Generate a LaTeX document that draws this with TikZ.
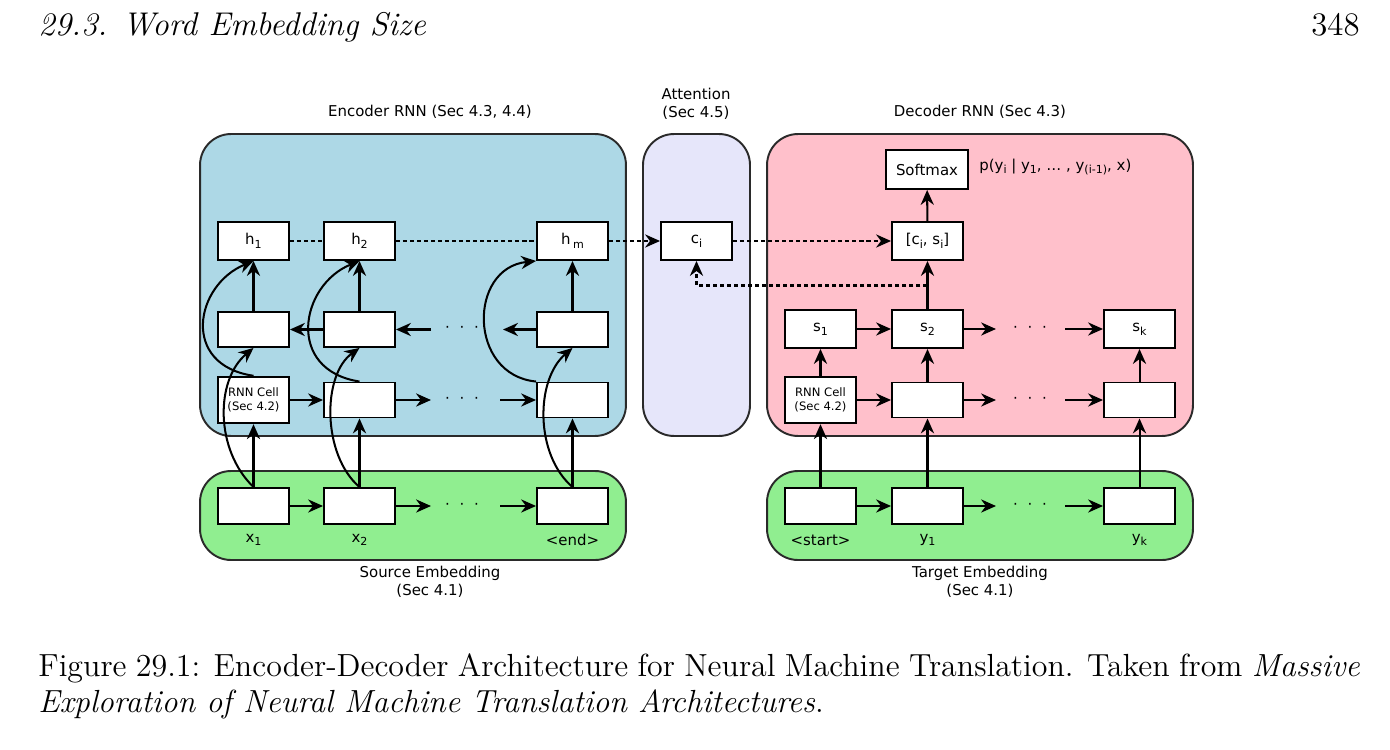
\documentclass[tikz,border=0pt]{standalone}
\usepackage{fontspec}
\setsansfont{DejaVu Sans}
\newfontfamily\capfont{lmroman12-regular.otf}[ItalicFont=lmroman12-italic.otf]
\usetikzlibrary{arrows.meta}
\definecolor{encblue}{HTML}{ADD8E6}
\definecolor{attlav}{HTML}{E6E6FA}
\definecolor{decpink}{HTML}{FFC0CB}
\definecolor{embgreen}{HTML}{90EE90}
\definecolor{edge}{HTML}{2A2A2A}
\newcommand\lbl{\sffamily\fontsize{8.5pt}{10pt}\selectfont}
\newcommand\lblsmall{\sffamily\fontsize{6.6pt}{8pt}\selectfont}
\newcommand\lo[1]{\raisebox{-0.45ex}{\fontsize{6.3pt}{7pt}\selectfont #1}}
\newcommand\threedots{·\hspace{5.5pt}·\hspace{5.5pt}·}
\begin{document}
\begin{tikzpicture}[x=0.02cm,y=-0.02cm,
  panel/.style={draw=edge, line width=1.1pt, rounded corners=0.62cm, inner sep=0pt},
  cell/.style={draw=black, line width=1.1pt, fill=white, minimum width=1.42cm, minimum height=0.7cm, inner sep=0pt, font=\lbl},
  hcell/.style={cell, minimum height=0.76cm},
  rnncell/.style={cell, minimum height=0.93cm, align=center, font=\lblsmall},
  arr/.style={-{Stealth[length=8.5pt,width=7.5pt]}, line width=1.15pt},
  dotl/.style={dash pattern=on 2.3pt off 1.7pt, line width=1.1pt},
  txt/.style={font=\lbl, inner sep=0pt},
  dots/.style={font=\lbl, inner sep=0pt}
]
\useasboundingbox (0,0) rectangle (1390,750);

% header
\node[anchor=base west, inner sep=0pt, font=\capfont\fontsize{18.7pt}{22pt}\selectfont\itshape] (hd) at (38,36) {29.3. Word Embedding Size};
\node[anchor=base east, inner sep=0pt, font=\capfont\fontsize{18.7pt}{22pt}\selectfont] (pg) at (1360,36) {348};

% panels
\node[panel, fill=encblue, minimum width=8.52cm, minimum height=6.04cm] (enc) at (413,285) {};
\node[panel, fill=attlav, minimum width=2.14cm, minimum height=6.04cm] (att) at (696.5,285) {};
\node[panel, fill=decpink, minimum width=8.52cm, minimum height=6.04cm] (dec) at (980,285) {};
\node[panel, fill=embgreen, minimum width=8.52cm, minimum height=1.78cm] (src) at (413,515.5) {};
\node[panel, fill=embgreen, minimum width=8.52cm, minimum height=1.78cm] (tgt) at (980,515.5) {};

% panel titles
\node[txt] (enct) at (430,112) {Encoder RNN (Sec 4.3, 4.4)};
\node[txt] (attt1) at (696,94) {Attention};
\node[txt] (attt2) at (696,113) {(Sec 4.5)};
\node[txt] (dect) at (980,112) {Decoder RNN (Sec 4.3)};
\node[txt] (srct1) at (430,573) {Source Embedding};
\node[txt] (srct2) at (430,591) {(Sec 4.1)};
\node[txt] (tgtt1) at (980,573) {Target Embedding};
\node[txt] (tgtt2) at (980,591) {(Sec 4.1)};

% encoder cells
\node[hcell] (h1) at (253.5,241) {h\lo{1}};
\node[hcell] (h2) at (359.5,241) {h\lo{2}};
\node[hcell] (hm) at (572.5,241) {h\,\lo{m}};
\node[cell] (b1) at (253.5,329.5) {};
\node[cell] (b2) at (359.5,329.5) {};
\node[cell] (bm) at (572.5,329.5) {};
\node[rnncell] (f1) at (253.5,400) {RNN Cell\\(Sec 4.2)};
\node[cell] (f2) at (359.5,400) {};
\node[cell] (fm) at (572.5,400) {};
\node[cell, minimum height=0.72cm] (x1) at (253.5,506) {};
\node[cell, minimum height=0.72cm] (x2) at (359.5,506) {};
\node[cell, minimum height=0.72cm] (xe) at (572.5,506) {};
\node[txt] (x1l) at (253.5,540) {x\lo{1}};
\node[txt] (x2l) at (359.5,540) {x\lo{2}};
\node[txt] (xel) at (572.5,540) {<end>};

% attention
\node[hcell] (ci) at (696.5,241) {c\lo{i}};

% decoder cells
\node[cell, minimum width=1.64cm, minimum height=0.78cm] (sm) at (927,169.5) {Softmax};
\node[txt, anchor=west] (pl) at (979,167) {p(y\lo{i} | y\lo{1}, \dots\ , y\lo{(i-1)}, x)};
\node[hcell] (cs) at (927.5,241) {[c\lo{i}, s\lo{i}]};
\node[hcell] (s1) at (820.5,329) {s\lo{1}};
\node[hcell] (s2) at (927.5,329) {s\lo{2}};
\node[hcell] (sk) at (1139.5,329) {s\lo{k}};
\node[rnncell] (r1) at (820.5,400) {RNN Cell\\(Sec 4.2)};
\node[cell] (r2) at (927.5,400) {};
\node[cell] (rk) at (1139.5,400) {};
\node[cell, minimum height=0.72cm] (t1) at (820.5,506) {};
\node[cell, minimum height=0.72cm] (t2) at (927.5,506) {};
\node[cell, minimum height=0.72cm] (tk) at (1139.5,506) {};
\node[txt] (t1l) at (820.5,540) {<start>};
\node[txt] (t2l) at (927.5,540) {y\lo{1}};
\node[txt] (tkl) at (1139.5,540) {y\lo{k}};

% dots
\node[dots] (dEb) at (462,329.5) {\threedots};
\node[dots] (dEf) at (462,400) {\threedots};
\node[dots] (dEx) at (462,506) {\threedots};
\node[dots] (dDs) at (1030,329) {\threedots};
\node[dots] (dDr) at (1030,400) {\threedots};
\node[dots] (dDt) at (1030,506) {\threedots};

% free ends
\coordinate (ba) at (431,329.5);
\coordinate (bb) at (503,329.5);
\coordinate (fa) at (431,400);
\coordinate (fb) at (500,400);
\coordinate (xa) at (431,506);
\coordinate (xb) at (500,506);
\coordinate (sa) at (996,329);
\coordinate (sb) at (1065,329);
\coordinate (ra) at (996,400);
\coordinate (rb) at (1065,400);
\coordinate (ta) at (996,506);
\coordinate (tb) at (1065,506);
\coordinate (br) at (927.5,285.5);

% encoder horizontal
\draw[arr] (f1) -- (f2);
\draw[arr] (f2) -- (fa);
\draw[arr] (fb) -- (fm);
\draw[arr] (b2) -- (b1);
\draw[arr] (ba) -- (b2);
\draw[arr] (bm) -- (bb);
\draw[arr] (x1) -- (x2);
\draw[arr] (x2) -- (xa);
\draw[arr] (xb) -- (xe);

% encoder vertical
\draw[arr] (x1) -- (f1);
\draw[arr] (b1) -- (h1);
\draw[arr] (x2) -- (f2);
\draw[arr] (b2) -- (h2);
\draw[arr] (xe) -- (fm);
\draw[arr] (bm) -- (hm);

% encoder curves
\draw[arr] (x1.north) .. controls (215,450) and (215,380) .. (b1.south);
\draw[arr] (f1.north) .. controls (180,365) and (195,285) .. (h1.south);
\draw[arr] (x2.north) .. controls (322,455) and (322,375) .. (b2.south);
\draw[arr] (f2.north) .. controls (285,370) and (300,285) .. (h2.south);
\draw[arr] (xe.north) .. controls (535,455) and (535,380) .. (bm.south);
\draw[arr] (fm.north west) .. controls (468,375) and (468,268) .. (hm.south west);

% dotted
\draw[dotl] (h1) -- (h2);
\draw[dotl] (h2) -- (hm);
\draw[dotl, arr] (hm) -- (ci);
\draw[dotl, arr] (ci) -- (cs);
\draw[dotl, arr] (br) -| (ci.south);

% decoder horizontal
\draw[arr] (s1) -- (s2);
\draw[arr] (s2) -- (sa);
\draw[arr] (sb) -- (sk);
\draw[arr] (r1) -- (r2);
\draw[arr] (r2) -- (ra);
\draw[arr] (rb) -- (rk);
\draw[arr] (t1) -- (t2);
\draw[arr] (t2) -- (ta);
\draw[arr] (tb) -- (tk);

% decoder vertical
\draw[arr] (t1) -- (r1);
\draw[arr] (r1) -- (s1);
\draw[arr] (t2) -- (r2);
\draw[arr] (r2) -- (s2);
\draw[arr] (tk) -- (rk);
\draw[arr] (rk) -- (sk);
\draw[arr] (s2) -- (cs);
\draw[arr] (cs) -- (sm);

% caption
\node[anchor=base west, inner sep=0pt, font=\capfont\fontsize{18.2pt}{22pt}\selectfont] (cap1) at (38,676) {\makebox[26.44cm][s]{Figure 29.1: Encoder-Decoder Architecture for Neural Machine Translation. Taken from \textit{Massive}}};
\node[anchor=base west, inner sep=0pt, font=\capfont\fontsize{18.2pt}{22pt}\selectfont\itshape] (cap2) at (38,712) {Exploration of Neural Machine Translation Architectures\/\upshape.};
\end{tikzpicture}
\end{document}
